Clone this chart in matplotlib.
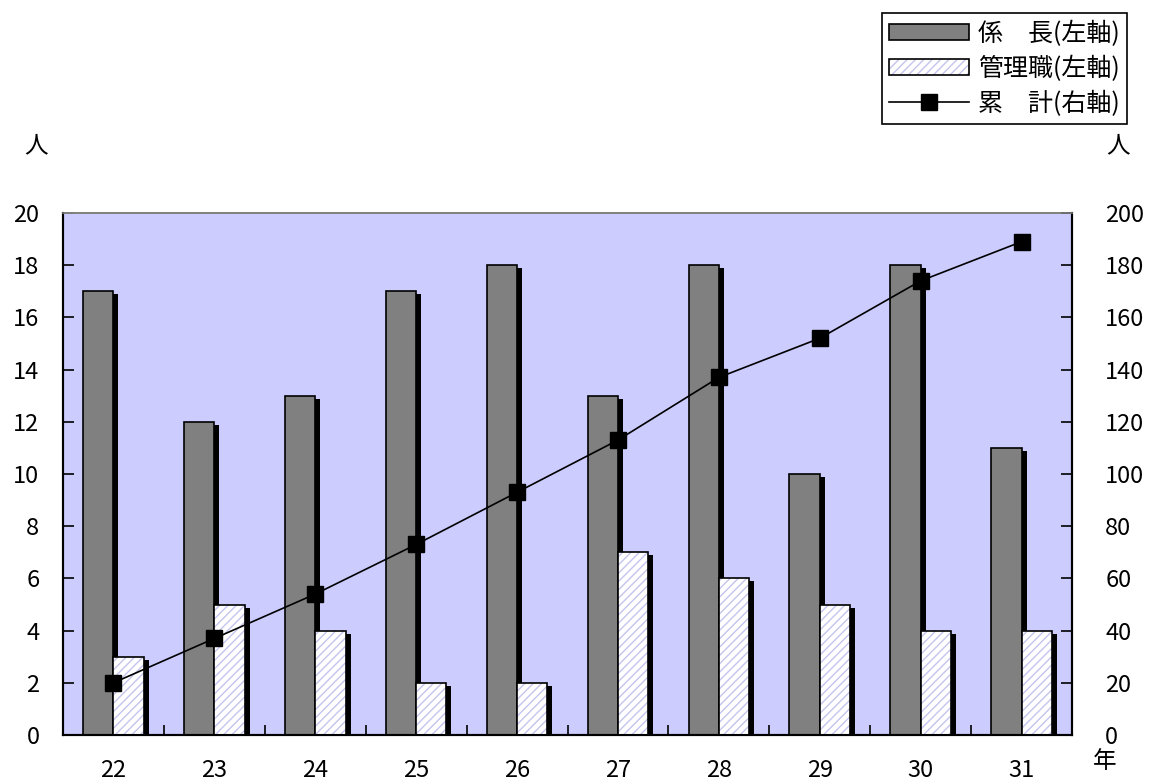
import matplotlib
matplotlib.use("Agg")
import matplotlib.pyplot as plt
import matplotlib.patheffects as pe
from matplotlib.patches import Patch
from matplotlib.lines import Line2D
from matplotlib.legend_handler import HandlerTuple
import numpy as np

plt.rcParams['font.family'] = ['Noto Sans CJK JP', 'DejaVu Sans']
plt.rcParams['hatch.linewidth'] = 1.0

years = ['22', '23', '24', '25', '26', '27', '28', '29', '30', '31']
kakaricho = [17, 12, 13, 17, 18, 13, 18, 10, 18, 11]
kanrishoku = [3, 5, 4, 2, 2, 7, 6, 5, 4, 4]
ruikei = [20, 37, 54, 73, 93, 113, 137, 152, 174, 189]

HATCH_COLOR = '#c4c4ee'

fig = plt.figure(figsize=(11.53, 7.83), dpi=100)
ax = fig.add_axes([63 / 1153, 1 - 735 / 783, (1072 - 63) / 1153, (735 - 213) / 783])
ax.set_facecolor('#ccccff')

x = np.arange(len(years))
w = 0.3
shadow = [pe.SimplePatchShadow(offset=(3.6, -2.2), shadow_rgbFace='black', alpha=1.0), pe.Normal()]

# 係長: grey bars with a drop shadow
ax.bar(x - w / 2, kakaricho, w, color='#808080', edgecolor='black', linewidth=1.2,
       path_effects=shadow, zorder=2)
# 管理職: white bars with shadow, a light hatch layer, then a black outline
ax.bar(x + w / 2, kanrishoku, w, color='white', linewidth=0, path_effects=shadow, zorder=3)
ax.bar(x + w / 2, kanrishoku, w, color='none', edgecolor=HATCH_COLOR, linewidth=0,
       hatch='////', zorder=3.05)
ax.bar(x + w / 2, kanrishoku, w, color='none', edgecolor='black', linewidth=1.2, zorder=3.1)

ax.set_xlim(-0.5, len(years) - 0.5)
ax.set_ylim(0, 20)
ax.set_yticks(np.arange(0, 21, 2))
ax.set_xticks(x)
ax.set_xticklabels(years)
ax.set_xticks(np.arange(0.5, len(years) - 0.5, 1), minor=True)
ax.tick_params(axis='x', which='major', length=0, pad=17, labelsize=17)
ax.tick_params(axis='x', which='minor', direction='in', length=7, width=1.2)
ax.tick_params(axis='y', direction='in', length=8, width=1.2, pad=17, labelsize=17)

ax2 = ax.twinx()
ax2.set_ylim(0, 200)
ax2.set_yticks(np.arange(0, 201, 20))
ax2.tick_params(axis='y', direction='in', length=8, width=1.2, pad=24, labelsize=17)
ax2.plot(x, ruikei, color='black', linewidth=1.2, marker='s', markersize=11, zorder=5)

for a in (ax, ax2):
    a.spines['left'].set_linewidth(1.5)
    a.spines['right'].set_linewidth(1.5)
    a.spines['bottom'].set_linewidth(1.5)
    a.spines['top'].set_color('#808080')
    a.spines['top'].set_linewidth(1.2)

fig.text(36 / 1153, 1 - 146 / 783, '人', fontsize=17, ha='center', va='center')
fig.text(1118 / 1153, 1 - 146 / 783, '人', fontsize=17, ha='center', va='center')
fig.text(1105 / 1153, 1 - 762 / 783, '年', fontsize=17, ha='center', va='center')

handles = [
    Patch(facecolor='#808080', edgecolor='black', linewidth=1.2),
    (Patch(facecolor='white', edgecolor=HATCH_COLOR, linewidth=0, hatch='////'),
     Patch(facecolor='none', edgecolor='black', linewidth=1.2)),
    Line2D([], [], color='black', linewidth=1.2, marker='s', markersize=12),
]
labels = ['係\u3000長(左軸)', '管理職(左軸)', '累\u3000計(右軸)']
leg = fig.legend(handles, labels, loc='upper right',
                 bbox_to_anchor=(1127 / 1153, 1 - 13 / 783), fontsize=18,
                 handler_map={tuple: HandlerTuple(ndivide=1, pad=0)},
                 frameon=True, fancybox=False, edgecolor='black', framealpha=1,
                 handlelength=3.2, handleheight=0.65, handletextpad=0.35,
                 labelspacing=0.35, borderpad=0.3, borderaxespad=0)
leg.get_frame().set_linewidth(1.2)

fig.savefig('out.png', dpi=100)
